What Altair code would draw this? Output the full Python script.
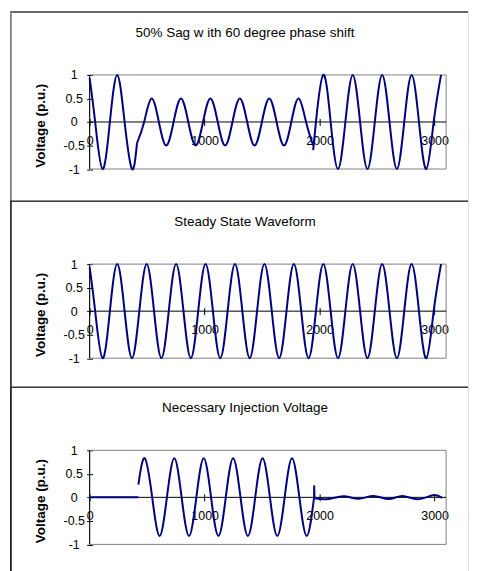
import altair as alt
import pandas as pd

# ---------------- values ----------------
TITLES = ["50% Sag w ith 60 degree phase shift",
          "Steady State Waveform",
          "Necessary Injection Voltage"]
Y_TITLE = "Voltage (p.u.)"
X_TICKS = [0, 1000, 2000, 3000]
Y_TICKS = [-1, -0.5, 0, 0.5, 1]
X_END = 3100  # right edge of the plot area

# Panel 1 : 50 % sag with 60 degree phase shift
sag_pre_x = [0, 48, 112, 176, 240, 304, 368, 412]
sag_pre_v = [0.93, 0, -1, 0, 1, 0, -1, -0.45]
sag_mid_x = [412, 474, 538, 602, 666, 730, 794, 858, 922, 986, 1050, 1114, 1178,
             1242, 1306, 1370, 1434, 1498, 1562, 1626, 1690, 1754, 1818, 1882, 1944]
sag_mid_v = [-0.45, 0, 0.5, 0, -0.5, 0, 0.5, 0, -0.5, 0, 0.5, 0, -0.5,
             0, 0.5, 0, -0.5, 0, 0.5, 0, -0.5, 0, 0.5, 0, -0.5]
sag_post_x = [1944, 1968, 2032, 2096, 2160, 2224, 2288, 2352, 2416, 2480,
              2544, 2608, 2672, 2736, 2800, 2864, 2928, 2992, 3056]
sag_post_v = [-0.6, 0, 1, 0, -1, 0, 1, 0, -1, 0,
              1, 0, -1, 0, 1, 0, -1, 0, 1]

# Panel 2 : steady state waveform
steady_x = [0, 48, 112, 176, 240, 304, 368, 432, 496, 560, 624, 688, 752, 816, 880,
            944, 1008, 1072, 1136, 1200, 1264, 1328, 1392, 1456, 1520, 1584, 1648,
            1712, 1776, 1840, 1904, 1968, 2032, 2096, 2160, 2224, 2288, 2352, 2416,
            2480, 2544, 2608, 2672, 2736, 2800, 2864, 2928, 2992, 3056]
steady_v = [0.93, 0, -1, 0, 1, 0, -1, 0, 1, 0, -1, 0, 1, 0, -1,
            0, 1, 0, -1, 0, 1, 0, -1, 0, 1, 0, -1,
            0, 1, 0, -1, 0, 1, 0, -1, 0, 1, 0, -1,
            0, 1, 0, -1, 0, 1, 0, -1, 0, 1]

# Panel 3 : necessary injection voltage
inj_flat_x = [0, 424]
inj_flat_v = [0, 0]
inj_x = [424, 480, 544, 608, 672, 736, 800, 864, 928, 992, 1056, 1120, 1184,
         1248, 1312, 1376, 1440, 1504, 1568, 1632, 1696, 1760, 1824, 1888, 1952]
inj_v = [0.27, 0.83, 0, -0.82, 0, 0.83, 0, -0.82, 0, 0.83, 0, -0.82, 0,
         0.83, 0, -0.82, 0, 0.83, 0, -0.82, 0, 0.83, 0, -0.82, 0]
inj_spike_x = [1952, 1953, 1955]
inj_spike_v = [0, 0.24, -0.02]
inj_tail_x = [1955, 2080, 2210, 2340, 2470, 2600, 2720, 2852, 2985, 3066]
inj_tail_v = [-0.02, -0.035, 0.025, -0.03, 0.03, -0.035, 0.03, -0.04, 0.045, -0.01]

# ---------------- layout (pixels) ----------------
W = 460                      # keeps the whole SVG inside the 462 px page body
HEIGHTS = [190, 187, 186]
PL, PR, PT, PB = 80.0, 438.0, 64.0, 158.5
TITLE_X, TITLE_Y = 236, 22
LINE = "#000080"
FONT = "Liberation Sans, Arial, sans-serif"

ppx = (PR - PL) / X_END
XDOM = [-PL / ppx, (W - PL) / ppx]
ppy = (PB - PT) / 2.0
Y0PX = (PT + PB) / 2.0


def make_df(segments):
    rows = []
    for sid, (xs, vs) in enumerate(segments):
        for x, v in zip(xs, vs):
            rows.append({"x": x, "v": v, "seg": sid})
    return pd.DataFrame(rows)


def panel(title, segments, h, left_color):
    ydom = [-1 - (h - PB) / ppy, 1 + PT / ppy]
    xs = alt.Scale(domain=XDOM, nice=False, zero=False)
    ys = alt.Scale(domain=ydom, nice=False, zero=False)
    xaxis = alt.Axis(values=X_TICKS, orient="bottom", offset=-(h - (Y0PX - 3.5)),
                     domain=False, grid=False, ticks=True, tickSize=7,
                     tickColor="black", tickWidth=1, labelPadding=9,
                     labelFlush=False, labelOverlap=False,
                     labelExpr="'' + datum.value", labelFont=FONT,
                     labelFontSize=12.5, labelColor="black", title=None)
    yaxis = alt.Axis(values=Y_TICKS, orient="left", offset=-(PL + 3),
                     domain=False, grid=False, ticks=True, tickSize=6,
                     tickColor="black", tickWidth=1, labelAlign="center",
                     labelPadding=13, labelOverlap=False, labelFlush=False,
                     labelExpr="'' + datum.value", labelFont=FONT,
                     labelFontSize=12.5, labelColor="black",
                     title=Y_TITLE, titleX=30.5 - (PL + 3), titleY=114.5,
                     titleAngle=270, titleAlign="center", titleBaseline="middle",
                     titleFont=FONT, titleFontSize=13.5, titleFontWeight="bold",
                     titleColor="black")

    frame = pd.DataFrame({"x0": [0], "x1": [X_END], "y0": [-1], "y1": [1], "z": [0]})
    one = pd.DataFrame({"a": [0]})
    tdf = pd.DataFrame({"t": [title]})

    box = alt.Chart(frame).mark_rect(fillOpacity=0, stroke="#808080", strokeWidth=1).encode(
        x=alt.X("x0:Q", scale=xs, axis=xaxis), x2="x1:Q",
        y=alt.Y("y0:Q", scale=ys, axis=yaxis), y2="y1:Q")
    zero_line = alt.Chart(frame).mark_rule(color="black", strokeWidth=1).encode(
        x=alt.X("x0:Q", scale=xs, axis=xaxis), x2="x1:Q",
        y=alt.Y("z:Q", scale=ys, axis=yaxis))
    y_line = alt.Chart(frame).mark_rule(color="black", strokeWidth=1).encode(
        x=alt.X("x0:Q", scale=xs, axis=xaxis),
        y=alt.Y("y0:Q", scale=ys, axis=yaxis), y2="y1:Q")
    wave = alt.Chart(make_df(segments)).mark_line(
        interpolate="natural", color=LINE, strokeWidth=2).encode(
        x=alt.X("x:Q", scale=xs, axis=xaxis),
        y=alt.Y("v:Q", scale=ys, axis=yaxis),
        detail="seg:N", order="x:Q")
    top_border = alt.Chart(one).mark_rule(color="#3a3a3a", strokeWidth=1.5).encode(
        x=alt.value(0), x2=alt.value(W), y=alt.value(0.75))
    left_border = alt.Chart(one).mark_rule(color=left_color, strokeWidth=1.8).encode(
        x=alt.value(0.9), y=alt.value(0), y2=alt.value(h))
    title_text = alt.Chart(tdf).mark_text(
        font=FONT, fontSize=13.5, color="black", align="center", baseline="middle").encode(
        text="t:N", x=alt.value(TITLE_X), y=alt.value(TITLE_Y))

    return alt.layer(box, zero_line, y_line, wave, top_border, left_border,
                     title_text).properties(width=W, height=h)


p1 = panel(TITLES[0], [(sag_pre_x, sag_pre_v), (sag_mid_x, sag_mid_v),
                       (sag_post_x, sag_post_v)], HEIGHTS[0], "#808080")
p2 = panel(TITLES[1], [(steady_x, steady_v)], HEIGHTS[1], "#303030")
p3 = panel(TITLES[2], [(inj_flat_x, inj_flat_v), (inj_x, inj_v),
                       (inj_spike_x, inj_spike_v), (inj_tail_x, inj_tail_v)],
           HEIGHTS[2], "#202020")

chart = alt.vconcat(p1, p2, p3, spacing=0, bounds="flush").properties(
    padding=0).configure_view(strokeWidth=0).configure(background="white")

chart.save("out.html", embed_options={"renderer": "svg", "actions": False})
